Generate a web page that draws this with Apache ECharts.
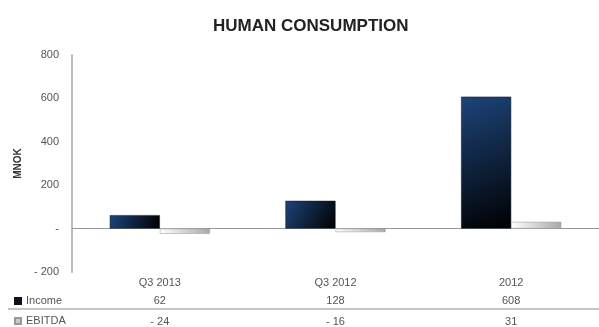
<!DOCTYPE html>
<html>
<head>
<meta charset="utf-8">
<script src="https://cdn.jsdelivr.net/npm/echarts@6/dist/echarts.min.js"></script>
<style>
  html, body { margin: 0; padding: 0; background: #fff; }
  #chart { width: 599px; height: 327px; }
</style>
</head>
<body>
<div id="chart"></div>
<script>
var categories = ['Q3 2013', 'Q3 2012', '2012'];
var income = [62, 128, 608];
var ebitda = [-24, -16, 31];
var yTicks = [-200, 0, 200, 400, 600, 800];

function fmtNum(v) {
    v = Number(v);
    if (v === 0) return '-';
    return v < 0 ? '- ' + Math.abs(v) : String(v);
}

var chart = echarts.init(document.getElementById('chart'));
var font = 'Liberation Sans, Arial, sans-serif';

var incomeColor = new echarts.graphic.LinearGradient(0, 0, 1, 1, [
    { offset: 0, color: '#1d4479' },
    { offset: 1, color: '#000000' }
]);
var ebitdaColor = new echarts.graphic.LinearGradient(0, 0, 1, 0, [
    { offset: 0, color: '#ffffff' },
    { offset: 1, color: '#a8a8a8' }
]);

// data table rows are extra x axes under the plot
var tableAxis = function (data, offset, fmt) {
    return {
        type: 'category', gridIndex: 0, position: 'bottom', offset: offset,
        data: data,
        axisLine: { show: false, onZero: false }, axisTick: { show: false },
        axisLabel: { color: '#555', fontSize: 11, fontFamily: font, margin: 5, formatter: fmt }
    };
};

var option = {
    backgroundColor: '#fff',
    animation: false,
    title: {
        text: 'HUMAN CONSUMPTION', left: 208, top: 13,
        textStyle: { fontSize: 17, fontWeight: 'bold', color: '#222', fontFamily: font }
    },
    legend: {
        orient: 'vertical', left: 14, top: 295, height: 60, itemWidth: 6, itemHeight: 6, itemGap: 8,
        icon: 'rect', itemTextGap: 3, padding: 0,
        textStyle: { color: '#555', fontSize: 11, fontFamily: font, lineHeight: 12 },
        data: [
            { name: 'Income', itemStyle: { color: '#111' } },
            { name: 'EBITDA', itemStyle: { color: '#c8c8c8' } }
        ]
    },
    grid: { left: 72, width: 536, top: 55, bottom: 55 },
    xAxis: [
        {
            type: 'category', data: categories,
            axisLine: { onZero: true, lineStyle: { color: '#999', width: 1 } },
            axisTick: { show: false }, axisLabel: { show: false }
        },
        tableAxis(categories, 0, null),
        tableAxis(income.map(String), 18, fmtNum),
        tableAxis(ebitda.map(String), 39, fmtNum)
    ],
    yAxis: {
        type: 'value', min: yTicks[0], max: yTicks[yTicks.length - 1], interval: 200,
        name: 'MNOK', nameLocation: 'middle', nameGap: 44, nameRotate: 90,
        nameTextStyle: { fontSize: 10, fontWeight: 'bold', color: '#333', fontFamily: font },
        axisLine: { show: true, onZero: false, lineStyle: { color: '#bbb', width: 2 } },
        axisTick: { show: false },
        splitLine: { show: false },
        axisLabel: { color: '#555', fontSize: 11, fontFamily: font, margin: 13, formatter: fmtNum }
    },
    graphic: [
        {
            type: 'line', shape: { x1: 8, y1: 309, x2: 599, y2: 309 },
            style: { stroke: '#c4c4c4', lineWidth: 2 }
        }
    ],
    series: [
        {
            name: 'Income', type: 'bar', data: income, barGap: '0%', barCategoryGap: '43%',
            itemStyle: { color: incomeColor, borderColor: '#0a1424', borderWidth: 0.5 }
        },
        {
            name: 'EBITDA', type: 'bar', data: ebitda,
            itemStyle: { color: ebitdaColor, borderColor: '#999', borderWidth: 0.5 }
        }
    ]
};

chart.setOption(option);
</script>
</body>
</html>
